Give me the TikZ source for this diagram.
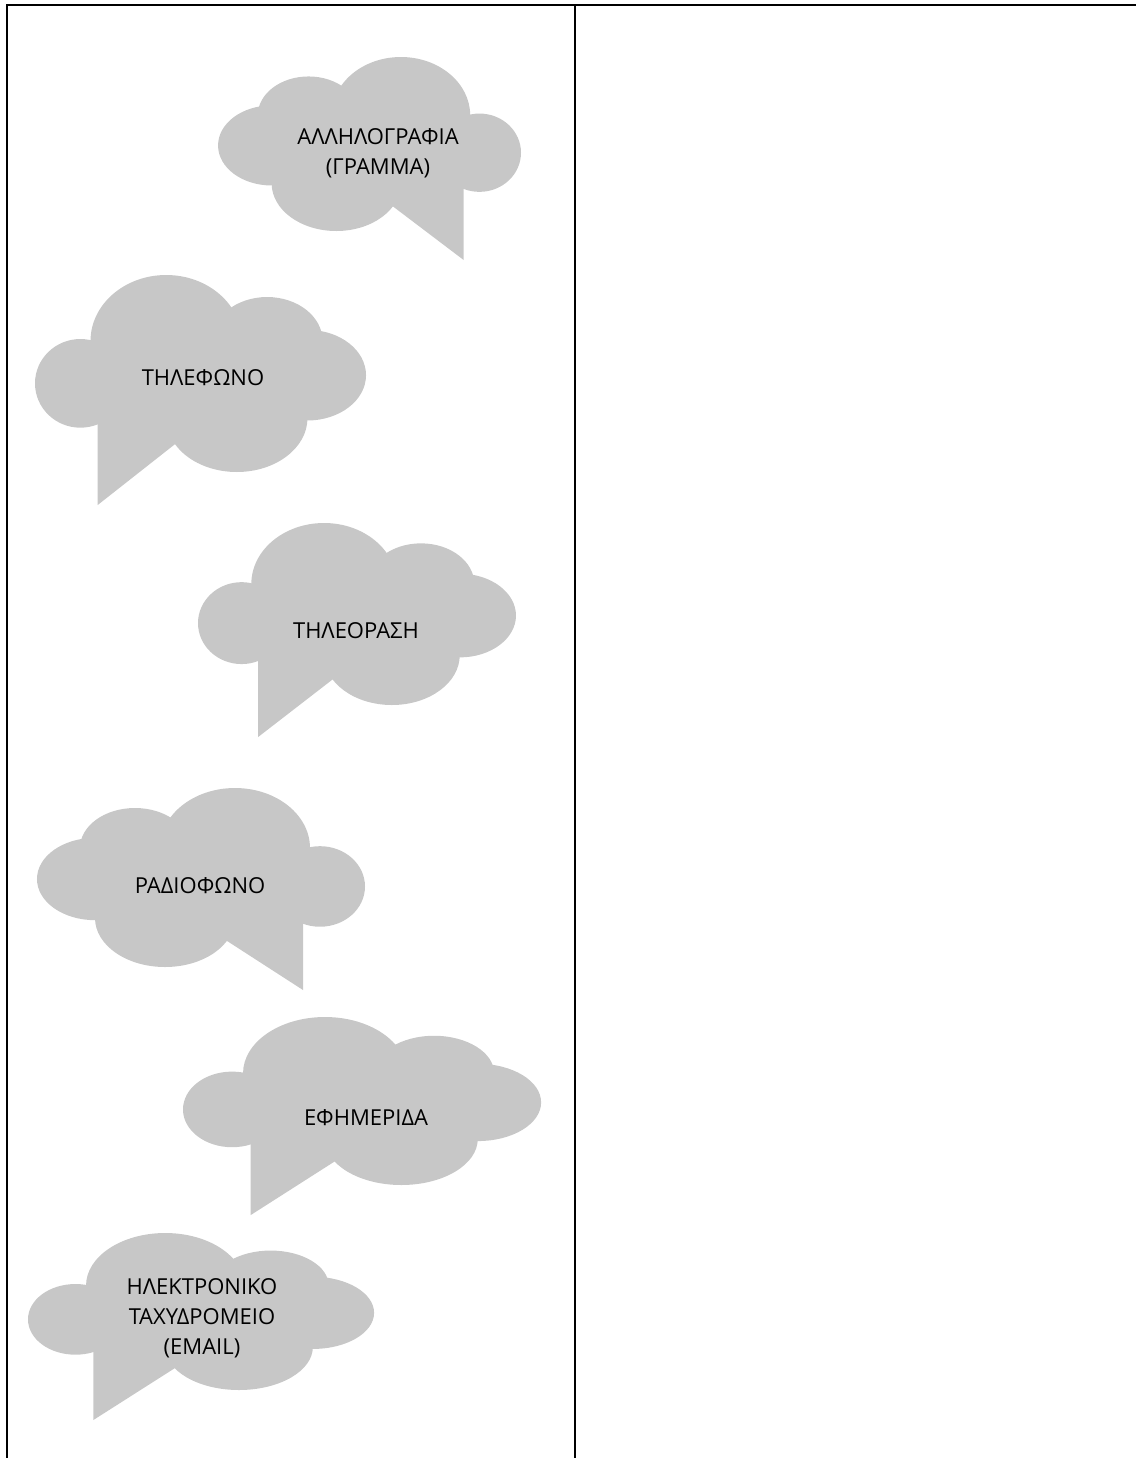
\documentclass[tikz,border=0pt]{standalone}
\usepackage{fontspec}
\setmainfont{Open Sans}
\usepackage{xcolor}
\usepackage{tikz}
\definecolor{cloudgray}{RGB}{199,199,199}
\tikzset{
	cloud text/.style={align=center,inner sep=0pt,font=\fontsize{11}{15}\selectfont},
	cloud fill/.style={fill=cloudgray,draw=none},
	rule line/.style={line width=1pt}
}
% cloud with a wedge tail: corner x, corner y, width (negative = mirrored), height, tail tip
\newcommand{\speechcloud}[5]{%
	\begin{scope}[shift={(#1,#2)},xscale=#3,yscale=#4]
		\fill[cloud fill] (0.1743,0.5084) ellipse [x radius=0.1774,y radius=0.2300];
		\fill[cloud fill] (0.2966,0.3352) ellipse [x radius=0.1682,y radius=0.2235];
		\fill[cloud fill] (0.6024,0.3352) ellipse [x radius=0.2294,y radius=0.3352];
		\fill[cloud fill] (0.8624,0.5500) ellipse [x radius=0.1376,y radius=0.2250];
		\fill[cloud fill] (0.3884,0.7263) ellipse [x radius=0.2141,y radius=0.2737];
		\fill[cloud fill] (0.5260,0.5140) ellipse [x radius=0.3360,y radius=0.2790];
		\fill[cloud fill] (0.8104,0.6257) -- (0.8104,#5) -- (0.5260,0.7930) -- cycle;
	\end{scope}}

\begin{document}
\begin{tikzpicture}[x=0.5pt,y=-0.5pt]
	\useasboundingbox (0,0) rectangle (1136,1458);
	% table frame
	\draw[rule line] (7,1460) -- (7,5) -- (1138,5);
	\draw[rule line] (574.5,5) -- (574.5,1460);
	% clouds
	\speechcloud{219}{57}{302}{174}{1.167}
	\speechcloud{365}{275}{-330}{197}{1.168}
	\speechcloud{515}{523}{-317}{182}{1.176}
	\speechcloud{38}{788}{327}{179}{1.1285}
	\speechcloud{540}{1017}{-357}{168}{1.179}
	\speechcloud{373}{1233}{-345}{157}{1.191}
	% labels
	\node[cloud text] (mail) at (378,153) {ΑΛΛΗΛΟΓΡΑΦΙΑ\\(ΓΡΑΜΜΑ)};
	\node[cloud text] (phone) at (203,378) {ΤΗΛΕΦΩΝΟ};
	\node[cloud text] (tv) at (356,631) {ΤΗΛΕΟΡΑΣΗ};
	\node[cloud text] (radio) at (200,886) {ΡΑΔΙΟΦΩΝΟ};
	\node[cloud text] (paper) at (366,1118) {ΕΦΗΜΕΡΙΔΑ};
	\node[cloud text] (email) at (202,1318) {ΗΛΕΚΤΡΟΝΙΚΟ\\ΤΑΧΥΔΡΟΜΕΙΟ\\(EMAIL)};
\end{tikzpicture}
\end{document}
